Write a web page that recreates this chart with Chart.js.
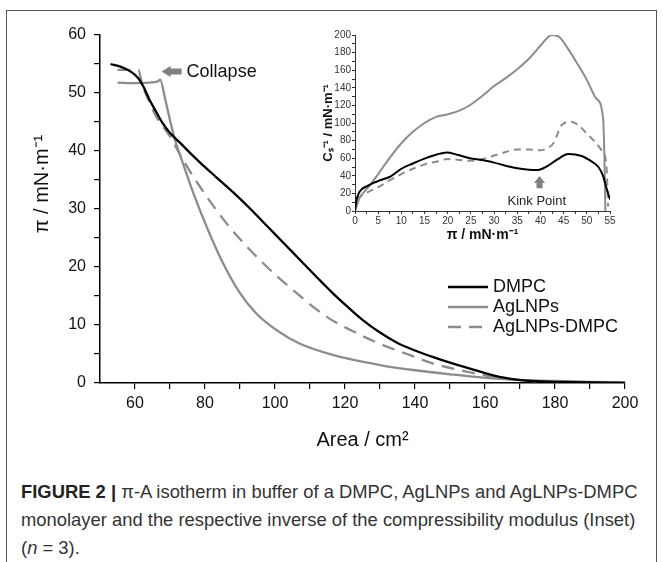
<!DOCTYPE html>
<html>
<head>
<meta charset="utf-8">
<script src="https://cdn.jsdelivr.net/npm/chart.js@4.4.1/dist/chart.umd.min.js"></script>
<style>
  html, body { margin: 0; padding: 0; background: #fff; }
  #lienzo { position: relative; width: 663px; height: 562px; overflow: hidden; font-family: 'Liberation Sans', Arial, sans-serif; }
  #marco { position: absolute; left: 6px; top: 10px; width: 649px; height: 600px; border: 1px solid #555; }
  #cv_principal { position: absolute; left: 0; top: 0; }
  #cv_inset { position: absolute; left: 300px; top: 20px; }
  #pie { position: absolute; left: 21px; top: 478px; font-size: 18.4px; line-height: 28px; color: #333; white-space: nowrap; }
  #pie b { color: #222; }
</style>
</head>
<body>
<div id="lienzo">
  <div id="marco"></div>
  <canvas id="cv_principal" width="663" height="470"></canvas>
  <canvas id="cv_inset" width="340" height="235"></canvas>
  <div id="pie">
    <b>FIGURE 2 |</b> π-A isotherm in buffer of a DMPC, AgLNPs and AgLNPs-DMPC<br>
    monolayer and the respective inverse of the compressibility modulus (Inset)<br>
    (<i>n</i> = 3).
  </div>
</div>

<script>
// --- Isoterma principal: area (cm2) vs presion superficial (mN/m) ---
const dmpcArea = [53, 56, 59, 61, 62.5, 64, 66, 68, 70, 72.9, 75.5, 78.6, 83, 88, 93, 98, 103, 108, 113, 117, 121, 125, 130, 135, 140, 145, 150, 155, 160, 165, 170, 175, 180, 190, 200];
const dmpcPi   = [55, 54.5, 53.6, 52.5, 51, 49, 46.8, 44.7, 43.1, 41.4, 39.8, 38.0, 35.6, 32.9, 30.0, 26.9, 23.8, 20.7, 17.6, 15.2, 13.0, 10.9, 8.7, 6.9, 5.6, 4.5, 3.5, 2.6, 1.7, 0.95, 0.5, 0.3, 0.2, 0.1, 0];

const aglnpsArea = [55, 60, 64, 66.5, 67.2, 68.5, 70, 71.5, 73.8, 76.7, 80.5, 85.2, 90, 94.8, 100.5, 107, 116.7, 130, 140, 150, 160, 170, 180, 190, 200];
const aglnpsPi   = [51.8, 51.7, 51.8, 52.0, 52.3, 49.3, 45.3, 41.8, 37.7, 32.7, 26.9, 20.6, 15.5, 11.9, 9.1, 6.8, 4.8, 3.1, 2.2, 1.5, 0.9, 0.55, 0.35, 0.2, 0.1];

const mixArea = [55, 58, 61, 62, 63.5, 66, 70, 73.8, 78.6, 86.2, 95.7, 105.2, 114.8, 122, 129.8, 138.6, 145, 152.9, 160, 166, 175, 185, 200];
const mixPi   = [54.0, 54.0, 54.0, 51.5, 49.3, 46, 42.5, 38.4, 33.8, 27.5, 21.2, 16.0, 11.4, 9, 6.8, 4.8, 3.4, 2.2, 1.3, 0.7, 0.3, 0.15, 0];

const marcasX = [60, 70, 80, 90, 100, 110, 120, 130, 140, 150, 160, 170, 180, 190, 200];
const marcasY = [0, 5, 10, 15, 20, 25, 30, 35, 40, 45, 50, 55, 60];

// --- Inset: inverso del modulo de compresibilidad vs presion ---
const inDmpcPi = [0, 0.3, 0.8, 1.5, 2.5, 4, 5.4, 7.6, 10, 12.5, 14.7, 17.5, 19.8, 22, 24.8, 27.5, 30, 32.5, 35, 37.5, 39.5, 41.3, 43.5, 46, 48.9, 50.5, 52.5, 53.5, 54.3, 55];
const inDmpcCs = [0, 12, 20, 25, 28, 32, 35, 39, 48, 54, 59, 64, 66.5, 64, 60, 58, 55, 51.5, 48.5, 47, 46.6, 50.4, 58, 64.8, 62.5, 58, 50, 40, 25, 13];

const inAgPi = [0, 0.5, 1, 2, 3, 5, 7, 10, 12.5, 15, 17.5, 20, 22.5, 25, 27.5, 30, 32.5, 35, 37.5, 40, 41.5, 42.5, 44, 46, 48, 50, 52, 53.5, 53.8, 54];
const inAgCs = [0, 8, 15, 22, 28, 42, 57, 77, 90, 100, 107, 110, 114, 121, 131, 142, 151, 161, 173, 188, 197, 200, 198, 184, 167, 149, 128, 106, 60, 0];

const inMixPi = [0, 0.3, 1, 3, 5, 7.5, 10, 12.5, 15, 17.5, 20, 22.5, 25, 27.5, 30, 32.5, 35, 37.5, 40, 41.3, 42.8, 44.6, 46.7, 48.5, 50, 51.5, 53.2, 54.2, 54.6];
const inMixCs = [0, 12, 16, 22, 27, 35, 42, 48, 53, 56, 59, 58, 57, 59, 63, 67, 70, 70, 69, 71, 77, 97.7, 101.5, 96, 88, 80, 69, 54, 5];

const marcasInsetX = [0, 2.5, 5, 7.5, 10, 12.5, 15, 17.5, 20, 22.5, 25, 27.5, 30, 32.5, 35, 37.5, 40, 42.5, 45, 47.5, 50, 52.5, 55];
const marcasInsetY = [0, 10, 20, 30, 40, 50, 60, 70, 80, 90, 100, 110, 120, 130, 140, 150, 160, 170, 180, 190, 200];

const fuente = "'Liberation Sans', Arial, sans-serif";
const gris = '#8c8c8c';

function pares(xs, ys) {
    return xs.map((x, i) => ({ x: x, y: ys[i] }));
}

function fijarMarcas(lista) {
    return function(eje) { eje.ticks = lista.map(v => ({ value: v })); };
}

// flecha rellena (cuerpo + punta) desde la base hacia la punta
function dibujarFlecha(ctx, x0, y0, x1, y1, grosor, anchoPunta, largoPunta) {
    const ang = Math.atan2(y1 - y0, x1 - x0);
    const largo = Math.hypot(x1 - x0, y1 - y0);
    ctx.save();
    ctx.translate(x0, y0);
    ctx.rotate(ang);
    ctx.beginPath();
    ctx.moveTo(0, -grosor / 2);
    ctx.lineTo(largo - largoPunta, -grosor / 2);
    ctx.lineTo(largo - largoPunta, -anchoPunta / 2);
    ctx.lineTo(largo, 0);
    ctx.lineTo(largo - largoPunta, anchoPunta / 2);
    ctx.lineTo(largo - largoPunta, grosor / 2);
    ctx.lineTo(0, grosor / 2);
    ctx.closePath();
    ctx.fillStyle = '#7f7f7f';
    ctx.fill();
    ctx.restore();
}

// 1. Leyenda y anotacion "Collapse" del grafico principal
const extrasPrincipal = {
    id: 'extrasPrincipal',
    afterDatasetsDraw(chart) {
        const ctx = chart.ctx;
        const sx = chart.scales.x, sy = chart.scales.y;
        ctx.save();

        chart.data.datasets.forEach(function(ds, i) {
            const y = 287 + i * 20;
            ctx.beginPath();
            ctx.setLineDash(ds.borderDash || []);
            ctx.lineWidth = ds.borderWidth;
            ctx.strokeStyle = ds.borderColor;
            ctx.moveTo(448, y);
            ctx.lineTo(488, y);
            ctx.stroke();
            ctx.setLineDash([]);
            ctx.fillStyle = '#111';
            ctx.font = '18px ' + fuente;
            ctx.textBaseline = 'middle';
            ctx.fillText(ds.label, 493, y);
        });

        const px = sx.getPixelForValue(67.6), py = sy.getPixelForValue(53.7);
        dibujarFlecha(ctx, px + 20, py, px, py, 6, 11, 9);
        ctx.fillStyle = '#111';
        ctx.font = '18px ' + fuente;
        ctx.textBaseline = 'middle';
        ctx.fillText('Collapse', px + 25, py);
        ctx.restore();
    }
};

// 2. Anotacion "Kink Point" del inset
const extrasInset = {
    id: 'extrasInset',
    afterDatasetsDraw(chart) {
        const ctx = chart.ctx;
        const sx = chart.scales.x, sy = chart.scales.y;
        const ax = sx.getPixelForValue(39.8);
        ctx.save();
        dibujarFlecha(ctx, ax, sy.getPixelForValue(25.8), ax, sy.getPixelForValue(39.8), 6, 11, 7);
        ctx.fillStyle = '#222';
        ctx.font = '13px ' + fuente;
        ctx.textAlign = 'center';
        ctx.textBaseline = 'middle';
        ctx.fillText('Kink Point', sx.getPixelForValue(39.2), sy.getPixelForValue(10.6));
        ctx.restore();
    }
};

new Chart(document.getElementById('cv_principal'), {
    type: 'line',
    data: {
        datasets: [
            { label: 'DMPC', data: pares(dmpcArea, dmpcPi), borderColor: '#000', borderWidth: 2.3 },
            { label: 'AgLNPs', data: pares(aglnpsArea, aglnpsPi), borderColor: gris, borderWidth: 2.3 },
            { label: 'AgLNPs-DMPC', data: pares(mixArea, mixPi), borderColor: gris, borderWidth: 2.3, borderDash: [13, 8] }
        ]
    },
    options: {
        responsive: false,
        animation: false,
        layout: { padding: { left: 0, right: 38, top: 35, bottom: 0 } },
        elements: { point: { radius: 0 }, line: { cubicInterpolationMode: 'monotone', fill: false } },
        plugins: { legend: { display: false }, tooltip: { enabled: false } },
        scales: {
            x: {
                type: 'linear', min: 50, max: 200,
                afterBuildTicks: fijarMarcas(marcasX),
                afterFit: function(eje) { eje.height = 87; },
                border: { color: '#000', width: 1.5 },
                grid: { drawOnChartArea: false, drawTicks: true, tickLength: 6, color: '#000', lineWidth: 1.2 },
                ticks: { autoSkip: false, maxRotation: 0, padding: 5, color: '#111', font: { family: fuente, size: 16 },
                         callback: v => (v % 20 === 0 ? v : '') },
                title: { display: true, text: 'Area / cm²', color: '#111', font: { family: fuente, size: 20 }, padding: { top: 0, bottom: 18 } }
            },
            y: {
                type: 'linear', min: 0, max: 60,
                afterBuildTicks: fijarMarcas(marcasY),
                afterFit: function(eje) { eje.width = 100; },
                border: { color: '#000', width: 1.5 },
                grid: { drawOnChartArea: false, drawTicks: true, tickLength: 6, color: '#000', lineWidth: 1.2 },
                ticks: { autoSkip: false, padding: 8, color: '#111', font: { family: fuente, size: 16 },
                         callback: v => (v % 10 === 0 ? v : '') },
                // espacios iniciales para subir el titulo como en el original
                title: { display: true, text: '\u00a0'.repeat(9) + 'π / mN·m⁻¹', color: '#111', font: { family: fuente, size: 20 }, padding: { top: 30, bottom: 0 } }
            }
        }
    },
    plugins: [extrasPrincipal]
});

new Chart(document.getElementById('cv_inset'), {
    type: 'line',
    data: {
        datasets: [
            { label: 'DMPC', data: pares(inDmpcPi, inDmpcCs), borderColor: '#000', borderWidth: 2 },
            { label: 'AgLNPs', data: pares(inAgPi, inAgCs), borderColor: gris, borderWidth: 2 },
            { label: 'AgLNPs-DMPC', data: pares(inMixPi, inMixCs), borderColor: gris, borderWidth: 2, borderDash: [7, 5] }
        ]
    },
    options: {
        responsive: false,
        animation: false,
        layout: { padding: { left: 0, right: 30, top: 15, bottom: 0 } },
        elements: { point: { radius: 0 }, line: { cubicInterpolationMode: 'monotone', fill: false } },
        plugins: { legend: { display: false }, tooltip: { enabled: false } },
        scales: {
            x: {
                type: 'linear', min: 0, max: 55,
                afterBuildTicks: fijarMarcas(marcasInsetX),
                afterFit: function(eje) { eje.height = 44; },
                border: { color: '#333', width: 1 },
                grid: { drawOnChartArea: false, drawTicks: true, tickLength: 3, color: '#333' },
                ticks: { autoSkip: false, maxRotation: 0, padding: 1, color: '#333', font: { family: fuente, size: 10 },
                         callback: v => (v % 5 === 0 ? v : '') },
                title: { display: true, text: 'π / mN·m⁻¹', color: '#111', font: { family: fuente, size: 14, weight: 'bold' }, padding: { top: 0, bottom: 11 } }
            },
            y: {
                type: 'linear', min: 0, max: 200,
                afterBuildTicks: fijarMarcas(marcasInsetY),
                afterFit: function(eje) { eje.width = 55; },
                border: { color: '#333', width: 1 },
                grid: { drawOnChartArea: false, drawTicks: true, tickLength: 3, color: '#333' },
                ticks: { autoSkip: false, padding: 1, color: '#333', font: { family: fuente, size: 10 },
                         callback: v => (v % 20 === 0 ? v : '') },
                title: { display: true, text: 'Cₛ⁻¹ / mN·m⁻¹', color: '#111', font: { family: fuente, size: 13, weight: 'bold' }, padding: { top: 21, bottom: 0 } }
            }
        }
    },
    plugins: [extrasInset]
});
</script>
</body>
</html>
